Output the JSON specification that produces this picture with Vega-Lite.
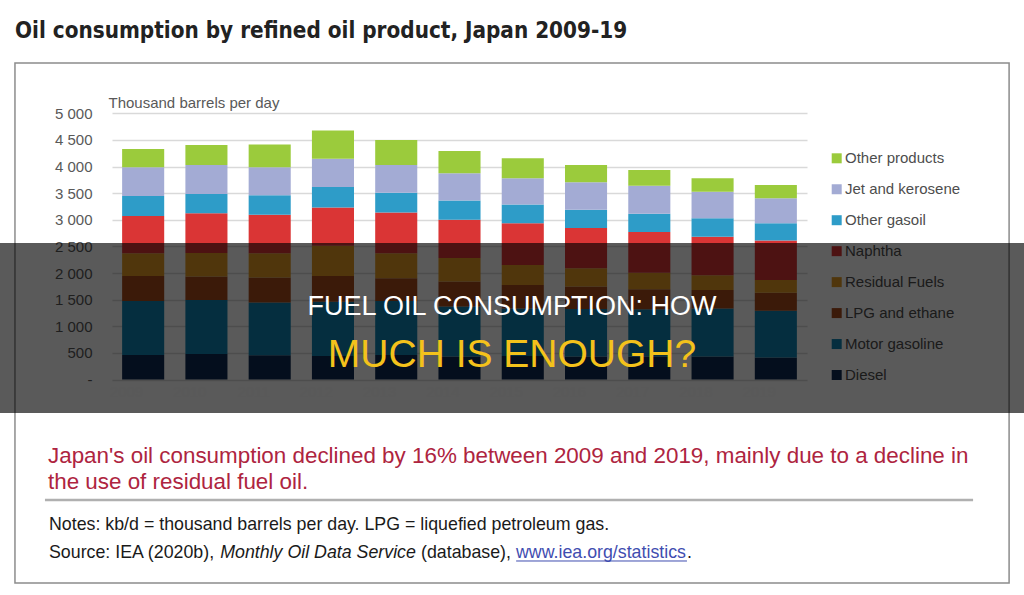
{
  "$schema": "https://vega.github.io/schema/vega-lite/v6.json",
  "width": 1024,
  "height": 595,
  "autosize": {"type": "none"},
  "padding": 0,
  "background": "white",
  "datasets": {
    "consumption": [
      {"year": "2009", "product": "Diesel", "kbd": 460},
      {"year": "2009", "product": "Motor gasoline", "kbd": 1015},
      {"year": "2009", "product": "LPG and ethane", "kbd": 470},
      {"year": "2009", "product": "Residual Fuels", "kbd": 425},
      {"year": "2009", "product": "Naphtha", "kbd": 700},
      {"year": "2009", "product": "Other gasoil", "kbd": 375},
      {"year": "2009", "product": "Jet and kerosene", "kbd": 540},
      {"year": "2009", "product": "Other products", "kbd": 345},
      {"year": "2010", "product": "Diesel", "kbd": 480},
      {"year": "2010", "product": "Motor gasoline", "kbd": 1015},
      {"year": "2010", "product": "LPG and ethane", "kbd": 440},
      {"year": "2010", "product": "Residual Fuels", "kbd": 440},
      {"year": "2010", "product": "Naphtha", "kbd": 750},
      {"year": "2010", "product": "Other gasoil", "kbd": 360},
      {"year": "2010", "product": "Jet and kerosene", "kbd": 545},
      {"year": "2010", "product": "Other products", "kbd": 375},
      {"year": "2011", "product": "Diesel", "kbd": 455},
      {"year": "2011", "product": "Motor gasoline", "kbd": 990},
      {"year": "2011", "product": "LPG and ethane", "kbd": 470},
      {"year": "2011", "product": "Residual Fuels", "kbd": 455},
      {"year": "2011", "product": "Naphtha", "kbd": 725},
      {"year": "2011", "product": "Other gasoil", "kbd": 365},
      {"year": "2011", "product": "Jet and kerosene", "kbd": 525},
      {"year": "2011", "product": "Other products", "kbd": 430},
      {"year": "2012", "product": "Diesel", "kbd": 440},
      {"year": "2012", "product": "Motor gasoline", "kbd": 1020},
      {"year": "2012", "product": "LPG and ethane", "kbd": 485},
      {"year": "2012", "product": "Residual Fuels", "kbd": 565},
      {"year": "2012", "product": "Naphtha", "kbd": 720},
      {"year": "2012", "product": "Other gasoil", "kbd": 385},
      {"year": "2012", "product": "Jet and kerosene", "kbd": 530},
      {"year": "2012", "product": "Other products", "kbd": 530},
      {"year": "2013", "product": "Diesel", "kbd": 460},
      {"year": "2013", "product": "Motor gasoline", "kbd": 1015},
      {"year": "2013", "product": "LPG and ethane", "kbd": 425},
      {"year": "2013", "product": "Residual Fuels", "kbd": 470},
      {"year": "2013", "product": "Naphtha", "kbd": 765},
      {"year": "2013", "product": "Other gasoil", "kbd": 375},
      {"year": "2013", "product": "Jet and kerosene", "kbd": 520},
      {"year": "2013", "product": "Other products", "kbd": 470},
      {"year": "2014", "product": "Diesel", "kbd": 430},
      {"year": "2014", "product": "Motor gasoline", "kbd": 940},
      {"year": "2014", "product": "LPG and ethane", "kbd": 470},
      {"year": "2014", "product": "Residual Fuels", "kbd": 440},
      {"year": "2014", "product": "Naphtha", "kbd": 720},
      {"year": "2014", "product": "Other gasoil", "kbd": 360},
      {"year": "2014", "product": "Jet and kerosene", "kbd": 515},
      {"year": "2014", "product": "Other products", "kbd": 415},
      {"year": "2015", "product": "Diesel", "kbd": 440},
      {"year": "2015", "product": "Motor gasoline", "kbd": 895},
      {"year": "2015", "product": "LPG and ethane", "kbd": 440},
      {"year": "2015", "product": "Residual Fuels", "kbd": 375},
      {"year": "2015", "product": "Naphtha", "kbd": 785},
      {"year": "2015", "product": "Other gasoil", "kbd": 350},
      {"year": "2015", "product": "Jet and kerosene", "kbd": 495},
      {"year": "2015", "product": "Other products", "kbd": 375},
      {"year": "2016", "product": "Diesel", "kbd": 430},
      {"year": "2016", "product": "Motor gasoline", "kbd": 895},
      {"year": "2016", "product": "LPG and ethane", "kbd": 420},
      {"year": "2016", "product": "Residual Fuels", "kbd": 345},
      {"year": "2016", "product": "Naphtha", "kbd": 755},
      {"year": "2016", "product": "Other gasoil", "kbd": 345},
      {"year": "2016", "product": "Jet and kerosene", "kbd": 515},
      {"year": "2016", "product": "Other products", "kbd": 325},
      {"year": "2017", "product": "Diesel", "kbd": 430},
      {"year": "2017", "product": "Motor gasoline", "kbd": 890},
      {"year": "2017", "product": "LPG and ethane", "kbd": 375},
      {"year": "2017", "product": "Residual Fuels", "kbd": 310},
      {"year": "2017", "product": "Naphtha", "kbd": 765},
      {"year": "2017", "product": "Other gasoil", "kbd": 345},
      {"year": "2017", "product": "Jet and kerosene", "kbd": 525},
      {"year": "2017", "product": "Other products", "kbd": 295},
      {"year": "2018", "product": "Diesel", "kbd": 430},
      {"year": "2018", "product": "Motor gasoline", "kbd": 905},
      {"year": "2018", "product": "LPG and ethane", "kbd": 345},
      {"year": "2018", "product": "Residual Fuels", "kbd": 280},
      {"year": "2018", "product": "Naphtha", "kbd": 720},
      {"year": "2018", "product": "Other gasoil", "kbd": 350},
      {"year": "2018", "product": "Jet and kerosene", "kbd": 495},
      {"year": "2018", "product": "Other products", "kbd": 255},
      {"year": "2019", "product": "Diesel", "kbd": 415},
      {"year": "2019", "product": "Motor gasoline", "kbd": 875},
      {"year": "2019", "product": "LPG and ethane", "kbd": 340},
      {"year": "2019", "product": "Residual Fuels", "kbd": 240},
      {"year": "2019", "product": "Naphtha", "kbd": 740},
      {"year": "2019", "product": "Other gasoil", "kbd": 325},
      {"year": "2019", "product": "Jet and kerosene", "kbd": 470},
      {"year": "2019", "product": "Other products", "kbd": 250}
    ]
  },
  "resolve": {"scale": {"y": "independent"}},
  "layer": [
    {
      "data": {"values": [{"part": "frame"}]},
      "mark": {"type": "rect", "filled": false, "stroke": "#8C8C8C", "strokeWidth": 1.5},
      "encoding": {
        "x": {"datum": "2009", "bandPosition": -2.547},
        "x2": {"datum": "2019", "bandPosition": 6.044},
        "y": {"datum": 5945, "type": "quantitative", "scale": {"domain": [0, 5000], "range": [379.5, 113.3], "nice": false, "zero": false}, "axis": null},
        "y2": {"datum": -3822}
      }
    },
    {
      "data": {"name": "consumption"},
      "transform": [
        {"calculate": "indexof(['Diesel', 'Motor gasoline', 'LPG and ethane', 'Residual Fuels', 'Naphtha', 'Other gasoil', 'Jet and kerosene', 'Other products'], datum.product)", "as": "stackOrder"}
      ],
      "mark": {"type": "bar"},
      "encoding": {
        "x": {
          "field": "year", "type": "ordinal",
          "scale": {"range": [112, 807], "paddingInner": 0.335, "paddingOuter": 0.16},
          "axis": {"title": null, "orient": "bottom", "offset": -215.5, "labelPadding": 12, "ticks": false, "domain": false, "labelAngle": 0, "labelFontSize": 15, "labelColor": "#595959", "grid": false}
        },
        "y": {
          "field": "kbd", "type": "quantitative", "stack": "zero",
          "scale": {"domain": [0, 5000], "range": [379.5, 113.3], "nice": false},
          "axis": {
            "title": "Thousand barrels per day",
            "values": [0, 500, 1000, 1500, 2000, 2500, 3000, 3500, 4000, 4500, 5000],
            "labelExpr": "datum.value === 0 ? '-  ' : replace(format(datum.value, ','), ',', ' ')",
            "offset": -92, "ticks": false, "tickSize": 0, "domain": false, "labelPadding": 0,
            "labelFontSize": 15, "labelColor": "#595959",
            "grid": true, "gridColor": "#D9D9D9", "gridWidth": 1.5,
            "titleAngle": 0, "titleAlign": "left", "titleBaseline": "alphabetic",
            "titleX": 16, "titleY": 107, "titleFontSize": 15, "titleFontWeight": "normal", "titleColor": "#595959"
          }
        },
        "color": {
          "field": "product", "type": "nominal",
          "scale": {
            "domain": ["Diesel", "Motor gasoline", "LPG and ethane", "Residual Fuels", "Naphtha", "Other gasoil", "Jet and kerosene", "Other products"],
            "range": ["#0E2A52", "#0F84B2", "#A84A1C", "#E39A22", "#DA3535", "#2E9CC8", "#A3ABD4", "#9BCB3C"]
          },
          "legend": null
        },
        "order": {"field": "stackOrder", "type": "quantitative", "sort": "ascending"}
      }
    },
    {
      "data": {"name": "consumption"},
      "transform": [{"aggregate": [{"op": "count", "as": "years"}], "groupby": ["product"]}],
      "mark": {"type": "square", "size": 100, "opacity": 1, "xOffset": 324.7},
      "encoding": {
        "y": {"field": "product", "type": "nominal", "scale": {"type": "point", "domain": ["Other products", "Jet and kerosene", "Other gasoil", "Naphtha", "Residual Fuels", "LPG and ethane", "Motor gasoline", "Diesel"], "range": [158.3, 375], "padding": 0}, "axis": null},
        "color": {"field": "product", "type": "nominal", "legend": null}
      }
    },
    {
      "data": {"name": "consumption"},
      "transform": [{"aggregate": [{"op": "count", "as": "years"}], "groupby": ["product"]}],
      "mark": {"type": "text", "align": "left", "baseline": "middle", "dx": 333, "fontSize": 15, "fill": "#4D4D4D"},
      "encoding": {
        "y": {"field": "product", "type": "nominal", "scale": {"type": "point", "domain": ["Other products", "Jet and kerosene", "Other gasoil", "Naphtha", "Residual Fuels", "LPG and ethane", "Motor gasoline", "Diesel"], "range": [158.3, 375], "padding": 0}, "axis": null},
        "text": {"field": "product"}
      }
    },
    {
      "data": {"values": [{"part": "banner"}]},
      "mark": {"type": "rect", "fill": "#000000", "opacity": 0.647},
      "encoding": {
        "y": {"datum": 2564, "type": "quantitative", "scale": {"domain": [0, 5000], "range": [379.5, 113.3], "nice": false, "zero": false}, "axis": null},
        "y2": {"datum": -629}
      }
    },
    {
      "data": {"values": [{"line": "FUEL OIL CONSUMPTION: HOW"}]},
      "mark": {"type": "text", "align": "center", "baseline": "alphabetic", "fontSize": 27, "fill": "#FFFFFF"},
      "encoding": {
        "y": {"datum": 1211, "type": "quantitative", "scale": {"domain": [0, 5000], "range": [379.5, 113.3], "nice": false, "zero": false}, "axis": null},
        "text": {"field": "line"}
      }
    },
    {
      "data": {"values": [{"line": "MUCH IS ENOUGH?"}]},
      "mark": {"type": "text", "align": "center", "baseline": "alphabetic", "fontSize": 39, "fill": "#F4C21B"},
      "encoding": {
        "y": {"datum": 235, "type": "quantitative", "scale": {"domain": [0, 5000], "range": [379.5, 113.3], "nice": false, "zero": false}, "axis": null},
        "text": {"field": "line"}
      }
    },
    {
      "data": {"values": [{"line": "Oil consumption by refined oil product, Japan 2009-19"}]},
      "mark": {"type": "text", "align": "left", "baseline": "alphabetic", "dx": -497, "font": "Liberation Sans Narrow, DejaVu Sans Condensed, sans-serif", "fontWeight": "bold", "fontSize": 22.3, "fill": "#222222"},
      "encoding": {
        "y": {"datum": 6414, "type": "quantitative", "scale": {"domain": [0, 5000], "range": [379.5, 113.3], "nice": false, "zero": false}, "axis": null},
        "text": {"field": "line"}
      }
    },
    {
      "data": {"values": [{"line": "Japan's oil consumption declined by 16% between 2009 and 2019, mainly due to a decline in\nthe use of residual fuel oil."}]},
      "mark": {"type": "text", "align": "left", "baseline": "alphabetic", "dx": -464, "lineBreak": "\n", "lineHeight": 26, "fontSize": 22.4, "fill": "#AE2440"},
      "encoding": {
        "y": {"datum": -1568, "type": "quantitative", "scale": {"domain": [0, 5000], "range": [379.5, 113.3], "nice": false, "zero": false}, "axis": null},
        "text": {"field": "line"}
      }
    },
    {
      "data": {"values": [{"part": "separator"}]},
      "mark": {"type": "rule", "stroke": "#B0B0B0", "strokeWidth": 2.5},
      "encoding": {
        "x": {"datum": "2009", "bandPosition": -1.834},
        "x2": {"datum": "2019", "bandPosition": 5.188},
        "y": {"datum": -2263, "type": "quantitative", "scale": {"domain": [0, 5000], "range": [379.5, 113.3], "nice": false, "zero": false}, "axis": null}
      }
    },
    {
      "data": {"values": [{"line": "Notes: kb/d = thousand barrels per day. LPG = liquefied petroleum gas."}]},
      "mark": {"type": "text", "align": "left", "baseline": "alphabetic", "dx": -463, "fontSize": 17.8, "fill": "#1A1A1A"},
      "encoding": {
        "y": {"datum": -2827, "type": "quantitative", "scale": {"domain": [0, 5000], "range": [379.5, 113.3], "nice": false, "zero": false}, "axis": null},
        "text": {"field": "line"}
      }
    },
    {
      "data": {"values": [{"line": "Source: IEA (2020b),"}]},
      "mark": {"type": "text", "align": "left", "baseline": "alphabetic", "dx": -463, "fontSize": 17.8, "fill": "#1A1A1A"},
      "encoding": {
        "y": {"datum": -3353, "type": "quantitative", "scale": {"domain": [0, 5000], "range": [379.5, 113.3], "nice": false, "zero": false}, "axis": null},
        "text": {"field": "line"}
      }
    },
    {
      "data": {"values": [{"line": "Monthly Oil Data Service"}]},
      "mark": {"type": "text", "align": "left", "baseline": "alphabetic", "dx": -291.8, "fontSize": 17.8, "fontStyle": "italic", "fill": "#1A1A1A"},
      "encoding": {
        "y": {"datum": -3353, "type": "quantitative", "scale": {"domain": [0, 5000], "range": [379.5, 113.3], "nice": false, "zero": false}, "axis": null},
        "text": {"field": "line"}
      }
    },
    {
      "data": {"values": [{"line": "(database),"}]},
      "mark": {"type": "text", "align": "left", "baseline": "alphabetic", "dx": -91, "fontSize": 17.8, "fill": "#1A1A1A"},
      "encoding": {
        "y": {"datum": -3353, "type": "quantitative", "scale": {"domain": [0, 5000], "range": [379.5, 113.3], "nice": false, "zero": false}, "axis": null},
        "text": {"field": "line"}
      }
    },
    {
      "data": {"values": [{"line": "www.iea.org/statistics"}]},
      "mark": {"type": "text", "align": "left", "baseline": "alphabetic", "dx": 4, "fontSize": 17.8, "fill": "#3F4DB0"},
      "encoding": {
        "y": {"datum": -3353, "type": "quantitative", "scale": {"domain": [0, 5000], "range": [379.5, 113.3], "nice": false, "zero": false}, "axis": null},
        "text": {"field": "line"}
      }
    },
    {
      "data": {"values": [{"line": "."}]},
      "mark": {"type": "text", "align": "left", "baseline": "alphabetic", "dx": 175.1, "fontSize": 17.8, "fill": "#1A1A1A"},
      "encoding": {
        "y": {"datum": -3353, "type": "quantitative", "scale": {"domain": [0, 5000], "range": [379.5, 113.3], "nice": false, "zero": false}, "axis": null},
        "text": {"field": "line"}
      }
    },
    {
      "data": {"values": [{"part": "link underline"}]},
      "mark": {"type": "rule", "stroke": "#3F4DB0", "strokeWidth": 1},
      "encoding": {
        "x": {"datum": "2009", "bandPosition": 9.365},
        "x2": {"datum": "2019", "bandPosition": -1.612},
        "y": {"datum": -3409, "type": "quantitative", "scale": {"domain": [0, 5000], "range": [379.5, 113.3], "nice": false, "zero": false}, "axis": null}
      }
    }
  ],
  "config": {
    "view": {"stroke": null},
    "font": "Liberation Sans",
    "axis": {"labelFont": "Liberation Sans", "titleFont": "Liberation Sans"}
  }
}
